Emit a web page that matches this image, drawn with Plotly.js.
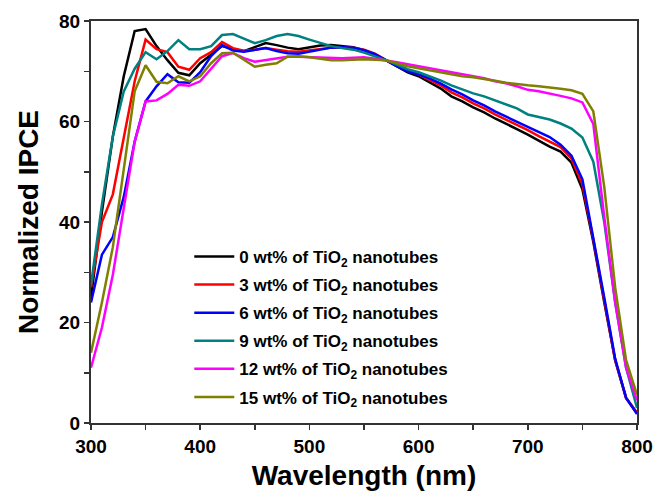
<!DOCTYPE html>
<html>
<head>
<meta charset="utf-8">
<script src="https://cdn.plot.ly/plotly-3.0.1.min.js"></script>
<style>html,body{margin:0;padding:0;background:#fff;}#chart{width:654px;height:491px;}</style>
</head>
<body>
<div id="chart"></div>
<script>
var wavelength = [300,310,320,330,340,350,360,370,380,390,400,410,420,430,440,450,460,470,480,490,500,510,520,530,540,550,560,570,580,590,600,610,620,630,640,650,660,670,680,690,700,710,720,730,740,750,760,770,780,790,800];

var ipce0 = [25,42,57,69,78,78.4,75,72.2,69.7,69.2,71.6,73.3,75,74.4,74,74.8,75.6,75.2,74.7,74.4,74.7,75.1,75.2,75,74.8,74.2,73.3,72.2,71,69.8,69,67.8,66.6,65,64,62.8,61.8,60.6,59.6,58.5,57.4,56.2,55,54,51.8,46.5,36,24,12.5,5,2];
var ipce3 = [27,40,45.5,57,68,76.3,74.4,73.8,70.9,70.3,72.6,73.8,75.8,74.6,74.1,74.3,74.6,74.3,74,73.9,74.2,74.5,74.7,74.8,74.7,74.3,73.5,72.2,71.2,70.1,69.4,68.3,67.2,65.8,64.8,63.6,62.6,61.4,60.4,59.3,58.3,57.1,56,54.9,52.6,47.5,36.5,24.5,12.5,5,2];
var ipce6 = [24,33.5,37,45,56,64,67,69.4,67.8,67.7,69.8,73,75.2,74.1,73.9,74.3,74.6,74,73.6,73.5,73.9,74.4,74.7,74.8,74.7,74.2,73.4,72.2,71,70,69.4,68.6,67.6,66.4,65.4,64.2,63.2,62,61,60,59,57.9,56.9,55.4,53.2,48.5,37,25,12.8,5,1.8];
var ipce9 = [27.5,43.5,57,66,70.5,73.8,72.4,74,76.2,74.4,74.4,75,77.2,77.4,76.5,75.6,76.2,77,77.4,77,76.3,75.6,75,74.6,74.3,73.7,73,72.2,71.3,70.4,69.8,69,68.2,67.2,66.4,65.6,65,64.2,63.4,62.6,61.4,60.9,60.4,59.6,58.6,56.8,52,40,24,11,3];
var ipce12 = [11,19,29.5,43,56,64,64.2,65.5,67.3,67.1,68,70.5,73,73.6,72.6,71.9,72.2,72.6,72.9,72.9,72.8,72.7,72.6,72.6,72.7,72.8,72.5,72.2,71.8,71.4,71,70.6,70.1,69.7,69.4,69,68.6,68,67.6,67,66.3,66,65.6,65.1,64.6,63.8,59.5,41,24,11,4.5];
var ipce15 = [14,24,35,50,66,71.2,67.9,67.6,69,68,69,71.6,73.6,73.7,72.3,70.9,71.3,71.6,72.9,73,72.8,72.5,72.2,72.2,72.3,72.4,72.3,72.2,71.6,71,70.6,70.2,69.8,69.4,69,68.8,68.5,68.1,67.7,67.4,67.2,67,66.8,66.5,66.2,65.5,62,47,27,12.5,5.6];

var seriesNames = ["0 wt% of TiO<sub>2</sub> nanotubes","3 wt% of TiO<sub>2</sub> nanotubes","6 wt% of TiO<sub>2</sub> nanotubes","9 wt% of TiO<sub>2</sub> nanotubes","12 wt% of TiO<sub>2</sub> nanotubes","15 wt% of TiO<sub>2</sub> nanotubes"];
var seriesColors = ["#000000","#ff0000","#0000ff","#008080","#ff00ff","#808000"];
var seriesValues = [ipce0, ipce3, ipce6, ipce9, ipce12, ipce15];

var traces = seriesValues.map(function(v, i){
  return {
    x: wavelength, y: v, type: 'scatter', mode: 'lines',
    name: seriesNames[i], legendgroup: 'g'+i,
    line: {color: seriesColors[i], width: 2.5}
  };
});

var font = "'Liberation Sans', Arial, sans-serif";
var layout = {
  width: 654, height: 491,
  margin: {l: 91, r: 17, t: 21, b: 68},
  paper_bgcolor: '#fff', plot_bgcolor: '#fff',
  showlegend: true,
  legend: {
    x: 0.18, y: 0.458, xanchor: 'left', yanchor: 'top',
    bgcolor: 'rgba(255,255,255,0)', borderwidth: 0,
    font: {family: font, size: 17, color: '#000', weight: 'bold'},
    tracegroupgap: 3, traceorder: 'grouped', itemwidth: 40
  },
  xaxis: {
    range: [300, 800], tickvals: [300,400,500,600,700,800],
    ticks: 'outside', ticklen: 5, tickwidth: 1.5, tickcolor: '#333',
    minor: {tickvals: [350,450,550,650,750], ticks: 'outside', ticklen: 5, tickwidth: 1.5, tickcolor: '#333'},
    showline: true, linecolor: '#333', linewidth: 2, mirror: true,
    showgrid: false, zeroline: false,
    tickfont: {family: font, size: 19, color: '#000', weight: 'bold'},
    title: {text: 'Wavelength (nm)', font: {family: font, size: 28, color: '#000', weight: 'bold'}, standoff: 19}
  },
  yaxis: {
    range: [0, 80], tickvals: [0,20,40,60,80],
    ticks: 'outside', ticklen: 5, tickwidth: 1.5, tickcolor: '#333',
    minor: {tickvals: [10,30,50,70], ticks: 'outside', ticklen: 5, tickwidth: 1.5, tickcolor: '#333'},
    showline: true, linecolor: '#333', linewidth: 2, mirror: true,
    showgrid: false, zeroline: false,
    tickfont: {family: font, size: 19, color: '#000', weight: 'bold'},
    title: {text: 'Normalized IPCE', font: {family: font, size: 28, color: '#000', weight: 'bold'}, standoff: 12}
  }
};

Plotly.newPlot('chart', traces, layout, {displayModeBar: false, staticPlot: true});
</script>
</body>
</html>
